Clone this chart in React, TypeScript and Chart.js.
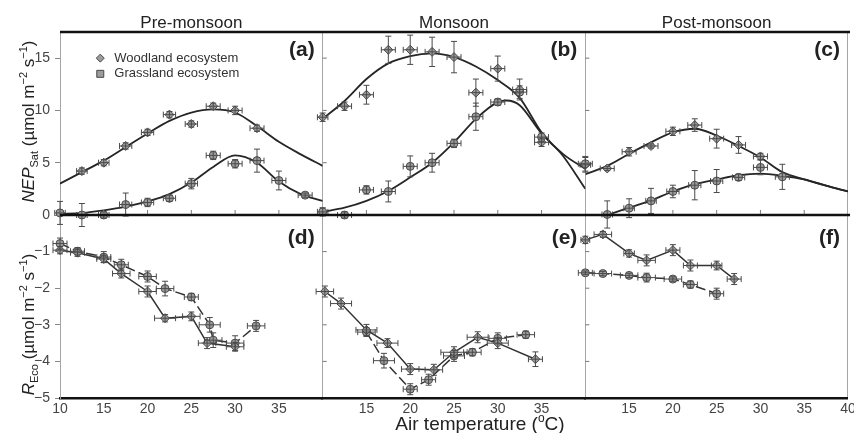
import { useEffect, useRef } from "react";
import { Chart, registerables } from "chart.js";

Chart.register(...registerables);

const FONT = "'Liberation Sans', Arial, sans-serif";

// ---------- fitted curves ----------
const FIT_T = [10, 12.5, 15, 17.5, 20, 22.5, 25, 27.5, 30, 32.5, 35, 37.5, 40];
const preWoodFit = [3.0, 4.1, 5.2, 6.5, 7.8, 9.0, 9.8, 10.1, 9.8, 8.5, 7.0, 5.8, 4.7];
const preGrassFit = [0.1, 0.2, 0.45, 0.8, 1.3, 2.0, 3.1, 4.6, 5.7, 5.0, 3.2, 2.0, 1.35];
const monWoodFit = [9.2, 10.9, 13.0, 14.5, 15.2, 15.45, 15.1, 14.2, 12.9, 11.2, 7.9, 5.6, 2.5];
const monGrassFitT = [10, 12.5, 15, 17.5, 20, 22.5, 25, 27.5, 30, 31, 32.5, 35, 37.5, 40];
const monGrassFit = [0.3, 0.7, 1.35, 2.3, 3.6, 5.0, 6.95, 9.2, 10.8, 10.95, 10.5, 7.8, 5.8, 4.4];
const postWoodFit = [3.9, 4.7, 5.85, 6.95, 7.9, 8.25, 7.6, 6.6, 5.5, 4.1, 3.4, 2.8, 2.25];
const postGrassFitT = [12.5, 15, 17.5, 20, 22.5, 25, 27.5, 30, 32.5, 35, 37.5, 40];
const postGrassFit = [0, 0.7, 1.4, 2.25, 2.95, 3.4, 3.8, 3.95, 3.75, 3.4, 2.8, 2.25];

// ---------- NEP_Sat observations ----------
const preWoodT = [12.5, 15, 17.5, 20, 22.5, 25, 27.5, 30, 32.5];
const preWoodNEP = [4.2, 5.0, 6.6, 7.9, 9.6, 8.7, 10.4, 10.0, 8.3];
const preWoodErr = [0.3, 0.3, 0.3, 0.3, 0.3, 0.3, 0.3, 0.4, 0.3];
const preWoodTErr = [0.6, 0.6, 0.7, 0.7, 0.7, 0.7, 0.8, 0.8, 0.8];
const preGrassT = [10, 12.5, 15, 17.5, 20, 22.5, 25, 27.5, 30, 32.5, 35, 38];
const preGrassNEP = [0.2, 0.0, 0.0, 1.0, 1.2, 1.6, 3.0, 5.7, 4.9, 5.2, 3.3, 1.9];
const preGrassErr = [1.1, 1.1, 0.3, 1.1, 0.4, 0.3, 0.5, 0.4, 0.4, 1.1, 0.9, 0.2];
const preGrassTErr = [0.6, 0.6, 0.6, 0.7, 0.7, 0.7, 0.7, 0.8, 0.8, 0.8, 0.8, 0.8];

const monWoodT = [10, 12.5, 15, 17.5, 20, 22.5, 25, 27.5, 30, 32.5, 35];
const monWoodNEP = [9.35, 10.4, 11.5, 15.8, 15.8, 15.6, 15.1, 11.7, 14.0, 12.0, 6.95];
const monWoodErr = [0.4, 0.4, 0.9, 1.3, 1.4, 1.4, 1.5, 1.3, 1.2, 1.0, 0.4];
const monWoodTErr = [0.6, 0.8, 0.8, 0.8, 0.8, 0.8, 0.8, 0.8, 0.8, 0.8, 0.8];
const monGrassT = [10, 12.5, 15, 17.5, 20, 22.5, 25, 27.5, 30, 32.5, 35, 40];
const monGrassNEP = [0.3, 0.0, 2.4, 2.25, 4.65, 5.0, 6.85, 9.4, 10.8, 11.75, 7.45, 4.9];
const monGrassErr = [0.4, 0.3, 0.4, 1.0, 1.0, 0.9, 0.4, 1.3, 0.3, 0.6, 0.4, 0.7];
const monGrassTErr = [0.6, 0.8, 0.8, 0.8, 0.8, 0.8, 0.8, 0.8, 0.8, 0.8, 0.8, 0.8];

const postWoodT = [10, 12.5, 15, 17.5, 20, 22.5, 25, 27.5, 30];
const postWoodNEP = [4.8, 4.45, 6.05, 6.6, 8.0, 8.6, 7.3, 6.7, 5.6];
const postWoodErr = [0.7, 0.2, 0.4, 0.2, 0.4, 0.6, 0.9, 0.8, 0.3];
const postWoodTErr = [0.6, 0.8, 0.8, 0.8, 0.8, 0.8, 0.8, 0.8, 0.8];
const postGrassT = [12.5, 15, 17.5, 20, 22.5, 25, 27.5, 30, 32.5];
const postGrassNEP = [0.05, 0.65, 1.35, 2.25, 2.85, 3.25, 3.6, 4.55, 3.65];
const postGrassErr = [1.3, 0.9, 1.2, 0.6, 1.4, 1.1, 0.3, 0.7, 1.2];
const postGrassTErr = [0.6, 0.6, 0.6, 0.7, 0.7, 0.7, 0.7, 0.8, 0.8];

// ---------- R_Eco observations ----------
const preWoodRT = [10, 12, 15, 17, 20, 22, 25, 26.8, 30];
const preWoodR = [-0.96, -1.03, -1.2, -1.6, -2.09, -2.82, -2.77, -3.5, -3.6];
const preWoodRErr = [0.1, 0.1, 0.1, 0.12, 0.15, 0.1, 0.12, 0.15, 0.12];
const preWoodRTErr = [0.8, 0.8, 0.8, 1.0, 1.0, 1.2, 1.0, 1.0, 1.0];
const preGrassRT = [10, 12, 15, 17, 20, 22, 25, 27.1, 27.5, 30, 32.4];
const preGrassR = [-0.78, -0.99, -1.15, -1.36, -1.68, -2.01, -2.24, -3.0, -3.42, -3.5, -3.03];
const preGrassRErr = [0.15, 0.1, 0.15, 0.15, 0.15, 0.2, 0.1, 0.2, 0.2, 0.2, 0.15];
const preGrassRTErr = [0.8, 0.8, 0.8, 0.8, 1.0, 1.0, 0.8, 1.2, 1.0, 1.0, 1.0];

const monWoodRT = [10.25, 12.1, 15, 17.4, 20, 22.7, 25, 27.7, 30, 34.3];
const monWoodR = [-2.09, -2.42, -3.14, -3.5, -4.21, -4.23, -3.75, -3.34, -3.5, -3.94];
const monWoodRErr = [0.15, 0.15, 0.15, 0.12, 0.15, 0.15, 0.15, 0.15, 0.15, 0.2];
const monWoodRTErr = [1.0, 1.2, 1.2, 1.2, 1.0, 1.0, 1.5, 1.2, 1.2, 0.8];
const monGrassRT = [15, 17, 20, 22.1, 25, 27.1, 30, 33.2];
const monGrassR = [-3.2, -3.98, -4.76, -4.5, -3.85, -3.75, -3.37, -3.27];
const monGrassRErr = [0.12, 0.2, 0.15, 0.15, 0.15, 0.1, 0.15, 0.1];
const monGrassRTErr = [1.0, 1.2, 0.8, 0.8, 1.2, 1.0, 1.0, 1.0];

const postWoodRT = [10, 12, 15, 17, 20, 22, 25, 27];
const postWoodR = [-0.68, -0.53, -1.05, -1.24, -0.96, -1.38, -1.38, -1.75];
const postWoodRErr = [0.1, 0.08, 0.1, 0.15, 0.15, 0.15, 0.12, 0.15];
const postWoodRTErr = [0.5, 1.0, 0.6, 1.0, 0.8, 0.8, 0.6, 0.8];
const postGrassRT = [10, 12, 15, 17, 20, 22, 25];
const postGrassR = [-1.58, -1.6, -1.65, -1.71, -1.75, -1.9, -2.15];
const postGrassRErr = [0.05, 0.06, 0.06, 0.12, 0.06, 0.1, 0.15];
const postGrassRTErr = [0.8, 1.0, 1.0, 1.0, 1.0, 0.8, 0.8];

// ---------- text ----------
const SEASONS = ["Pre-monsoon", "Monsoon", "Post-monsoon"];
const TOP_LABELS = ["(a)", "(b)", "(c)"];
const BOTTOM_LABELS = ["(d)", "(e)", "(f)"];
const LEGEND = ["Woodland ecosystem", "Grassland ecosystem"];
const X_AXES = ["xa", "xb", "xc"];

const INK = "#222";
const MARK_FILL = "#9c9c9c";
const MARK_EDGE = "#4a4a4a";

function xy(T: number[], V: number[]) {
  return T.map((t, i) => ({ x: t, y: V[i] }));
}

function fitSet(T: number[], V: number[], xID: string) {
  return {
    data: xy(T, V),
    xAxisID: xID,
    yAxisID: "yN",
    borderColor: "#262626",
    borderWidth: 1.8,
    pointRadius: 0,
    cubicInterpolationMode: "monotone",
    fill: false,
    order: 5,
  };
}

function markSet(
  T: number[], V: number[], xID: string, yID: string, kind: "wood" | "grass",
  errY: number[], errX: number[], line: boolean
) {
  return {
    data: xy(T, V),
    xAxisID: xID,
    yAxisID: yID,
    showLine: line,
    borderColor: "#333",
    borderWidth: 1.5,
    borderDash: line && kind === "grass" ? [10, 4] : [],
    pointStyle: kind === "wood" ? "rectRot" : "circle",
    pointRadius: kind === "wood" ? 4.5 : 4,
    pointBackgroundColor: MARK_FILL,
    pointBorderColor: MARK_EDGE,
    pointBorderWidth: 1,
    clip: false,
    tension: 0,
    fill: false,
    errY,
    errX,
    order: 1,
  };
}

type Run = { t: string; size: number; dy?: number; italic?: boolean };
function drawRuns(ctx: CanvasRenderingContext2D, runs: Run[], cx: number, cy: number, rot: number) {
  ctx.save();
  ctx.translate(cx, cy);
  if (rot) ctx.rotate(rot);
  const fontOf = (r: Run) => `${r.italic ? "italic " : ""}${r.size}px ${FONT}`;
  let w = 0;
  for (const r of runs) {
    ctx.font = fontOf(r);
    w += ctx.measureText(r.t).width;
  }
  let x = -w / 2;
  ctx.textBaseline = "alphabetic";
  ctx.textAlign = "left";
  ctx.fillStyle = INK;
  for (const r of runs) {
    ctx.font = fontOf(r);
    ctx.fillText(r.t, x, r.dy || 0);
    x += ctx.measureText(r.t).width;
  }
  ctx.restore();
}

const errorBars = {
  id: "errorBars",
  afterDatasetsDraw(chart: any) {
    const ctx = chart.ctx as CanvasRenderingContext2D;
    chart.data.datasets.forEach((ds: any) => {
      if (!ds.errY) return;
      const xs = chart.scales[ds.xAxisID];
      const ys = chart.scales[ds.yAxisID];
      ctx.save();
      ctx.strokeStyle = "#4a4a4a";
      ctx.lineWidth = 1;
      ctx.setLineDash([]);
      ds.data.forEach((p: any, i: number) => {
        const px = xs.getPixelForValue(p.x);
        const py = ys.getPixelForValue(p.y);
        const y1 = ys.getPixelForValue(p.y + ds.errY[i]);
        const y2 = ys.getPixelForValue(p.y - ds.errY[i]);
        const x1 = xs.getPixelForValue(p.x - ds.errX[i]);
        const x2 = xs.getPixelForValue(p.x + ds.errX[i]);
        ctx.beginPath();
        ctx.moveTo(px, y1); ctx.lineTo(px, y2);
        ctx.moveTo(px - 3, y1); ctx.lineTo(px + 3, y1);
        ctx.moveTo(px - 3, y2); ctx.lineTo(px + 3, y2);
        ctx.moveTo(x1, py); ctx.lineTo(x2, py);
        ctx.moveTo(x1, py - 3); ctx.lineTo(x1, py + 3);
        ctx.moveTo(x2, py - 3); ctx.lineTo(x2, py + 3);
        ctx.stroke();
      });
      ctx.restore();
    });
  },
};

const decor = {
  id: "decor",
  afterDraw(chart: any) {
    const ctx = chart.ctx as CanvasRenderingContext2D;
    const ca = chart.chartArea;
    const yN = chart.scales.yN;
    const yR = chart.scales.yR;
    const yMid = yN.getPixelForValue(0);
    ctx.save();
    // thick frame lines
    ctx.strokeStyle = "#111";
    ctx.lineWidth = 2.5;
    ctx.beginPath();
    ctx.moveTo(ca.left, ca.top); ctx.lineTo(ca.right + 2, ca.top);
    ctx.moveTo(ca.left, yMid); ctx.lineTo(ca.right + 2, yMid);
    ctx.stroke();
    // small tick marks
    ctx.strokeStyle = "#777";
    ctx.lineWidth = 1;
    ctx.beginPath();
    X_AXES.forEach((id, k) => {
      const xs = chart.scales[id];
      for (let v = 15; v <= 35; v += 5) {
        const px = xs.getPixelForValue(v);
        ctx.moveTo(px, yMid - 1); ctx.lineTo(px, yMid - 5);
      }
      if (k > 0) {
        const left = xs.left;
        for (const v of [5, 10, 15]) {
          const py = yN.getPixelForValue(v);
          ctx.moveTo(left, py); ctx.lineTo(left + 4, py);
        }
        for (const v of [-1, -2, -3, -4]) {
          const py = yR.getPixelForValue(v);
          ctx.moveTo(left, py); ctx.lineTo(left + 4, py);
        }
      }
    });
    ctx.stroke();

    // season titles and panel letters
    ctx.fillStyle = INK;
    X_AXES.forEach((id, k) => {
      const xs = chart.scales[id];
      ctx.font = `17px ${FONT}`;
      ctx.textAlign = "center";
      ctx.textBaseline = "alphabetic";
      ctx.fillText(SEASONS[k], (xs.left + xs.right) / 2, ca.top - 4);
      ctx.font = `bold 21px ${FONT}`;
      ctx.textAlign = "right";
      ctx.textBaseline = "middle";
      ctx.fillText(TOP_LABELS[k], xs.right - 8, ca.top + 18);
      ctx.fillText(BOTTOM_LABELS[k], xs.right - 8, yMid + 23);
    });

    // legend
    const lx = chart.scales.xa.getPixelForValue(14.6);
    const ly1 = yN.getPixelForValue(15.0);
    const ly2 = yN.getPixelForValue(13.5);
    ctx.fillStyle = MARK_FILL;
    ctx.strokeStyle = MARK_EDGE;
    ctx.lineWidth = 1;
    ctx.beginPath();
    ctx.moveTo(lx, ly1 - 4); ctx.lineTo(lx + 4, ly1); ctx.lineTo(lx, ly1 + 4); ctx.lineTo(lx - 4, ly1); ctx.closePath();
    ctx.fill(); ctx.stroke();
    ctx.beginPath();
    ctx.rect(lx - 3.5, ly2 - 3.5, 7, 7);
    ctx.fill(); ctx.stroke();
    ctx.fillStyle = "#333";
    ctx.font = `13px ${FONT}`;
    ctx.textAlign = "left";
    ctx.textBaseline = "middle";
    ctx.fillText(LEGEND[0], lx + 14, ly1);
    ctx.fillText(LEGEND[1], lx + 14, ly2);

    // axis titles
    const unit: Run[] = [
      { t: " (\u00b5mol m", size: 17 },
      { t: "\u22122", size: 11, dy: -7 },
      { t: " s", size: 17 },
      { t: "\u22121", size: 11, dy: -7 },
      { t: ")", size: 17 },
    ];
    drawRuns(ctx, [{ t: "NEP", size: 17, italic: true }, { t: "Sat", size: 11, dy: 4 }, ...unit], 34, (ca.top + yMid) / 2 - 2, -Math.PI / 2);
    drawRuns(ctx, [{ t: "R", size: 17, italic: true }, { t: "Eco", size: 11, dy: 4 }, ...unit], 34, (yMid + ca.bottom) / 2 + 18, -Math.PI / 2);
    drawRuns(
      ctx,
      [{ t: "Air temperature (", size: 19 }, { t: "o", size: 12, dy: -8 }, { t: "C)", size: 19 }],
      (ca.left + ca.right) / 2 + 26,
      ca.bottom + 32,
      0
    );
    ctx.restore();
  },
};

function xAxis(show: (v: number) => boolean) {
  return {
    type: "linear",
    position: "bottom",
    stack: "x",
    stackWeight: 1,
    min: 10,
    max: 40,
    ticks: {
      stepSize: 5,
      autoSkip: false,
      maxRotation: 0,
      padding: 3,
      color: "#444",
      font: { family: FONT, size: 14 },
      callback: (v: any) => (show(Number(v)) ? String(v) : ""),
    },
    grid: {
      drawTicks: false,
      lineWidth: 1,
      color: (c: any) => (c.tick && c.tick.value === 40 ? "#a6a6a6" : "rgba(0,0,0,0)"),
    },
    border: { display: true, color: "#111", width: 2.5 },
    afterFit: (s: any) => {
      s.height = 35;
      s.paddingLeft = 0;
      s.paddingRight = 0;
    },
  };
}

function yAxis(min: number, max: number, step: number, weight: number, hideZero: boolean) {
  return {
    type: "linear",
    position: "left",
    stack: "y",
    stackWeight: 1,
    weight,
    min,
    max,
    ticks: {
      stepSize: step,
      autoSkip: false,
      includeBounds: false,
      padding: 5,
      color: "#444",
      font: { family: FONT, size: 14 },
      callback: (v: any) => {
        const n = Number(v);
        if (hideZero && n === 0) return "";
        return n < 0 ? "\u2212" + Math.abs(n) : String(n);
      },
    },
    grid: { drawOnChartArea: false, drawTicks: true, tickLength: 5, color: "#888" },
    border: { display: true, color: "#a6a6a6", width: 1 },
    afterFit: (s: any) => {
      s.width = 60;
      s.paddingTop = 0;
      s.paddingBottom = 0;
    },
  };
}

export default function App() {
  const ref = useRef<HTMLCanvasElement>(null);

  useEffect(() => {
    if (!ref.current) return;
    const datasets: any[] = [
      // fitted curves
      fitSet(FIT_T, preWoodFit, "xa"),
      fitSet(FIT_T, preGrassFit, "xa"),
      fitSet(FIT_T, monWoodFit, "xb"),
      fitSet(monGrassFitT, monGrassFit, "xb"),
      fitSet(FIT_T, postWoodFit, "xc"),
      fitSet(postGrassFitT, postGrassFit, "xc"),
      // NEP observations
      markSet(preWoodT, preWoodNEP, "xa", "yN", "wood", preWoodErr, preWoodTErr, false),
      markSet(preGrassT, preGrassNEP, "xa", "yN", "grass", preGrassErr, preGrassTErr, false),
      markSet(monWoodT, monWoodNEP, "xb", "yN", "wood", monWoodErr, monWoodTErr, false),
      markSet(monGrassT, monGrassNEP, "xb", "yN", "grass", monGrassErr, monGrassTErr, false),
      markSet(postWoodT, postWoodNEP, "xc", "yN", "wood", postWoodErr, postWoodTErr, false),
      markSet(postGrassT, postGrassNEP, "xc", "yN", "grass", postGrassErr, postGrassTErr, false),
      // R_Eco observations
      markSet(preWoodRT, preWoodR, "xa", "yR", "wood", preWoodRErr, preWoodRTErr, true),
      markSet(preGrassRT, preGrassR, "xa", "yR", "grass", preGrassRErr, preGrassRTErr, true),
      markSet(monWoodRT, monWoodR, "xb", "yR", "wood", monWoodRErr, monWoodRTErr, true),
      markSet(monGrassRT, monGrassR, "xb", "yR", "grass", monGrassRErr, monGrassRTErr, true),
      markSet(postWoodRT, postWoodR, "xc", "yR", "wood", postWoodRErr, postWoodRTErr, true),
      markSet(postGrassRT, postGrassR, "xc", "yR", "grass", postGrassRErr, postGrassRTErr, true),
    ];

    const chart = new Chart(ref.current, {
      type: "line",
      data: { datasets },
      options: {
        responsive: false,
        animation: false,
        layout: { padding: { left: 0, right: 6, top: 32, bottom: 0 } },
        plugins: { legend: { display: false }, tooltip: { enabled: false } },
        scales: {
          xa: xAxis((v) => v < 40),
          xb: xAxis((v) => v > 10 && v < 40),
          xc: xAxis((v) => v > 10),
          yN: yAxis(0, 17.5, 5, 2, false),
          yR: yAxis(-5, 0, 1, 1, true),
        } as any,
      },
      plugins: [errorBars, decor],
    } as any);

    return () => chart.destroy();
  }, []);

  return (
    <div style={{ position: "absolute", left: 0, top: 0, width: 854, height: 433, background: "#fff" }}>
      <canvas ref={ref} width={854} height={433} style={{ display: "block" }} />
    </div>
  );
}
